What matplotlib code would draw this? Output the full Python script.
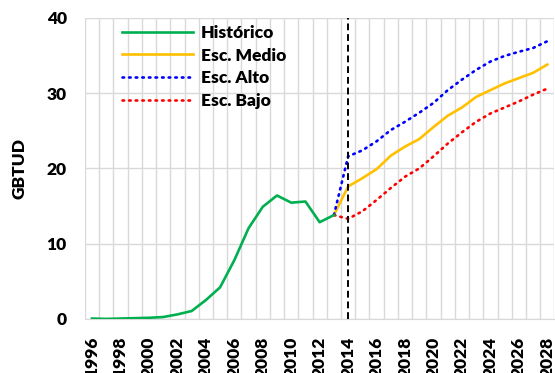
import numpy as np
import matplotlib
matplotlib.use("Agg")
import matplotlib.pyplot as plt
from matplotlib.ticker import FixedLocator

# ---- data ----
hist_years = list(range(1996, 2014))
historico = [0.05, 0.0, 0.05, 0.1, 0.15, 0.25, 0.6, 1.05, 2.5, 4.2, 7.8, 12.05,
             14.9, 16.4, 15.45, 15.6, 12.85, 13.8]
esc_years = list(range(2013, 2029))
esc_medio = [13.8, 17.6, 18.7, 19.9, 21.7, 22.9, 23.9, 25.5, 27.0, 28.1, 29.5,
             30.4, 31.3, 32.0, 32.7, 33.8]
esc_alto = [13.8, 21.6, 22.4, 23.6, 25.1, 26.2, 27.4, 28.7, 30.4, 31.8, 33.1,
            34.2, 34.95, 35.5, 36.0, 36.9]
esc_bajo = [13.8, 13.3, 14.3, 15.8, 17.4, 18.9, 20.0, 21.6, 23.3, 24.8, 26.2,
            27.3, 28.1, 28.9, 29.8, 30.6]
anio_corte = 2014
x_ticks = list(range(1996, 2029, 2))
y_ticks = [0, 10, 20, 30, 40]
labels = ["Histórico", "Esc. Medio", "Esc. Alto", "Esc. Bajo"]

W = 'heavy'
plt.rcParams['font.family'] = ['Lato', 'DejaVu Sans']
plt.rcParams['font.weight'] = W

fig = plt.figure(figsize=(5.55, 3.73), dpi=100)
ax = fig.add_axes([0.153, 0.145, 0.846, 0.807])

ax.plot(hist_years, historico, color='#00B050', lw=1.9, label=labels[0], zorder=4)
ax.plot(esc_years, esc_medio, color='#FFC000', lw=1.9, label=labels[1], zorder=3)
ax.plot(esc_years, esc_alto, color='#0000FF', lw=1.9, ls=(0, (0.6, 1.9)),
        dash_capstyle='round', label=labels[2], zorder=3)
ax.plot(esc_years, esc_bajo, color='#FF0000', lw=1.9, ls=(0, (0.6, 1.9)),
        dash_capstyle='round', label=labels[3], zorder=3)
ax.axvline(anio_corte, color='black', lw=1.4, ls=(0, (3.5, 2)), zorder=5)

ax.set_xlim(1995.5, 2028.5)
ax.set_ylim(0, 40)
ax.set_yticks(y_ticks)
ax.set_xticks(x_ticks)
ax.set_xticklabels([str(y) for y in x_ticks], rotation=90, fontsize=12.5, fontweight=W)
ax.set_yticklabels([str(v) for v in y_ticks], fontsize=12.5, fontweight=W)
ax.xaxis.set_minor_locator(FixedLocator(np.arange(1995.5, 2029, 1)))
ax.tick_params(axis='both', which='both', length=0)
ax.tick_params(axis='x', pad=13)
ax.tick_params(axis='y', pad=13)
ax.grid(True, axis='x', which='minor', color='#D9D9D9', lw=1.0)
ax.grid(True, axis='y', which='major', color='#D9D9D9', lw=1.0)
ax.grid(False, axis='x', which='major')
for s in ['top', 'right', 'left']:
    ax.spines[s].set_visible(False)
ax.spines['bottom'].set_color('#D9D9D9')
ax.set_axisbelow(True)

ax.set_ylabel('GBTUD', fontsize=12.5, fontweight=W, labelpad=14)

leg = ax.legend(loc='upper left', bbox_to_anchor=(0.06, 1.006), frameon=False,
                fontsize=12.5, handlelength=4.1, handletextpad=0.45,
                labelspacing=0.39, borderaxespad=0.1)

fig.savefig('out.png', dpi=100)
